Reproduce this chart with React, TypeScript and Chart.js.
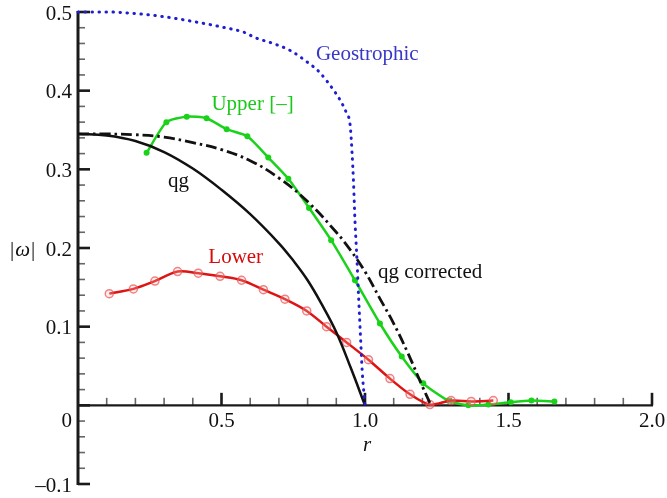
import React, { useEffect, useRef } from "react";
import { Chart, registerables } from "chart.js";

Chart.register(...registerables);

// ---------- data ----------
const geoR = [0, 0.1, 0.2, 0.3, 0.4, 0.5, 0.58, 0.62, 0.68, 0.74, 0.8, 0.84, 0.89, 0.915, 0.936, 0.948, 0.955, 0.96, 0.965, 0.972, 0.978, 0.984, 0.99, 1.0];
const geoW = [0.5, 0.5, 0.498, 0.494, 0.488, 0.481, 0.474, 0.467, 0.46, 0.451, 0.436, 0.424, 0.401, 0.387, 0.371, 0.357, 0.32, 0.283, 0.235, 0.185, 0.135, 0.09, 0.045, 0.0];

const qgR = [0, 0.1, 0.2, 0.3, 0.4, 0.5, 0.6, 0.7, 0.75, 0.8, 0.85, 0.9, 0.95, 1.0];
const qgW = [0.345, 0.343, 0.336, 0.322, 0.301, 0.274, 0.243, 0.206, 0.184, 0.159, 0.128, 0.093, 0.048, 0.0];

const qgcR = [0, 0.1, 0.2, 0.3, 0.4, 0.5, 0.6, 0.7, 0.8, 0.9, 0.95, 1.0, 1.05, 1.1, 1.15, 1.2, 1.23];
const qgcW = [0.345, 0.345, 0.344, 0.341, 0.334, 0.325, 0.311, 0.289, 0.259, 0.22, 0.197, 0.17, 0.137, 0.104, 0.066, 0.024, 0.0];

const upperR = [0.239, 0.308, 0.379, 0.448, 0.518, 0.59, 0.663, 0.733, 0.805, 0.882, 0.965, 1.052, 1.128, 1.203, 1.29, 1.36, 1.43, 1.508, 1.58, 1.66];
const upperW = [0.321, 0.36, 0.367, 0.365, 0.351, 0.342, 0.315, 0.288, 0.251, 0.21, 0.159, 0.104, 0.062, 0.028, 0.006, 0.0, 0.001, 0.004, 0.006, 0.005];

const lowerR = [0.109, 0.193, 0.268, 0.347, 0.419, 0.495, 0.57, 0.646, 0.721, 0.797, 0.866, 0.936, 1.012, 1.087, 1.157, 1.226, 1.3, 1.37, 1.447];
const lowerW = [0.142, 0.148, 0.158, 0.17, 0.168, 0.164, 0.159, 0.147, 0.135, 0.12, 0.1, 0.08, 0.058, 0.034, 0.014, 0.001, 0.006, 0.005, 0.006];

const xTickValues = [0.5, 1.0, 1.5, 2.0];
const xTickLabels = ["0.5", "1.0", "1.5", "2.0"];
const yTickValues = [0.5, 0.4, 0.3, 0.2, 0.1, -0.1];
const yTickLabels = ["0.5", "0.4", "0.3", "0.2", "0.1", "\u20130.1"];

const seriesLabels = ["Geostrophic", "Upper [\u2013]", "qg", "qg corrected", "Lower"];

const FONT = '"Liberation Serif", "Times New Roman", serif';

const pts = (xs: number[], ys: number[]) => xs.map((x, i) => ({ x, y: ys[i] }));

const annotations = [
  { text: seriesLabels[0], x: 0.829, y: 0.4384, color: "rgb(55,55,200)" },
  { text: seriesLabels[1], x: 0.465, y: 0.3757, color: "rgb(25,200,25)" },
  { text: seriesLabels[2], x: 0.314, y: 0.278, color: "#111" },
  { text: seriesLabels[3], x: 1.045, y: 0.1623, color: "#111" },
  { text: seriesLabels[4], x: 0.454, y: 0.1807, color: "rgb(215,10,10)" },
];

const axesPlugin = {
  id: "customAxes",
  beforeDatasetsDraw(chart: any) {
    const { ctx, scales } = chart;
    const xs = scales.x;
    const ys = scales.y;
    const xLeft = xs.getPixelForValue(0);
    const xRight = xs.getPixelForValue(2);
    const yZero = ys.getPixelForValue(0);
    const yTop = ys.getPixelForValue(0.5);
    const yBot = ys.getPixelForValue(-0.1);
    ctx.save();
    ctx.strokeStyle = "#666";
    ctx.lineWidth = 1.6;
    for (let i = -5; i <= 25; i++) {
      if (i % 5 === 0) continue;
      const py = ys.getPixelForValue(i * 0.02);
      ctx.beginPath();
      ctx.moveTo(xLeft, py);
      ctx.lineTo(xLeft + 7, py);
      ctx.stroke();
    }
    for (let i = 1; i < 20; i++) {
      if (i % 5 === 0) continue;
      const px = xs.getPixelForValue(i * 0.1);
      ctx.beginPath();
      ctx.moveTo(px, yZero);
      ctx.lineTo(px, yZero - 7.5);
      ctx.stroke();
    }
    ctx.strokeStyle = "#1a1a1a";
    ctx.lineWidth = 2.6;
    [...yTickValues, 0].forEach((v) => {
      const py = ys.getPixelForValue(v);
      ctx.beginPath();
      ctx.moveTo(xLeft, py);
      ctx.lineTo(xLeft + 12, py);
      ctx.stroke();
    });
    xTickValues.forEach((v) => {
      const px = xs.getPixelForValue(v);
      ctx.beginPath();
      ctx.moveTo(px, yZero);
      ctx.lineTo(px, yZero - 12.5);
      ctx.stroke();
    });
    ctx.lineWidth = 2.2;
    ctx.beginPath();
    ctx.moveTo(xLeft, yZero);
    ctx.lineTo(xRight + 1, yZero);
    ctx.stroke();
    ctx.lineWidth = 3;
    ctx.beginPath();
    ctx.moveTo(xLeft, yTop - 1);
    ctx.lineTo(xLeft, yBot + 1);
    ctx.stroke();
    ctx.restore();
  },
  afterDraw(chart: any) {
    const { ctx, scales } = chart;
    const xs = scales.x;
    const ys = scales.y;
    const xLeft = xs.getPixelForValue(0);
    const yZero = ys.getPixelForValue(0);
    ctx.save();
    ctx.fillStyle = "#111";
    ctx.font = `21px ${FONT}`;
    ctx.textAlign = "right";
    ctx.textBaseline = "middle";
    yTickValues.forEach((v, i) => {
      ctx.fillText(yTickLabels[i], xLeft - 6, ys.getPixelForValue(v) + 2);
    });
    ctx.textBaseline = "alphabetic";
    ctx.fillText("0", xLeft - 6, yZero + 22);
    ctx.textAlign = "center";
    xTickValues.forEach((v, i) => {
      ctx.fillText(xTickLabels[i], xs.getPixelForValue(v), yZero + 22);
    });
    ctx.font = `italic 21px ${FONT}`;
    ctx.fillText("r", xs.getPixelForValue(1.0) + 2, yZero + 46);
    const yMid = ys.getPixelForValue(0.2) + 2;
    ctx.textBaseline = "middle";
    ctx.textAlign = "left";
    ctx.font = `21px ${FONT}`;
    const bar = "|";
    let cx = xLeft - 68;
    ctx.fillText(bar, cx, yMid);
    cx += ctx.measureText(bar).width + 1;
    ctx.font = `italic 21px ${FONT}`;
    ctx.fillText("\u03C9", cx, yMid);
    cx += ctx.measureText("\u03C9").width + 1;
    ctx.font = `21px ${FONT}`;
    ctx.fillText(bar, cx, yMid);
    ctx.textBaseline = "alphabetic";
    ctx.textAlign = "left";
    annotations.forEach((a) => {
      ctx.fillStyle = a.color;
      ctx.fillText(a.text, xs.getPixelForValue(a.x), ys.getPixelForValue(a.y));
    });
    ctx.restore();
  },
};

export default function App() {
  const canvasRef = useRef<HTMLCanvasElement | null>(null);

  useEffect(() => {
    document.body.style.margin = "0";
    const canvas = canvasRef.current;
    if (!canvas) return;
    const chart = new Chart(canvas, {
      type: "line",
      data: {
        datasets: [
          {
            label: seriesLabels[0],
            data: pts(geoR, geoW),
            borderColor: "rgb(30,30,210)",
            borderWidth: 3,
            borderDash: [0.5, 6.5],
            borderCapStyle: "round",
            pointRadius: 0,
            cubicInterpolationMode: "monotone",
            clip: false,
          } as any,
          {
            label: seriesLabels[2],
            data: pts(qgR, qgW),
            borderColor: "#111",
            borderWidth: 2.5,
            pointRadius: 0,
            tension: 0.4,
            clip: false,
          },
          {
            label: seriesLabels[3],
            data: pts(qgcR, qgcW),
            borderColor: "#111",
            borderWidth: 2.8,
            borderDash: [11, 4, 2.5, 4],
            pointRadius: 0,
            tension: 0.4,
            clip: false,
          },
          {
            label: seriesLabels[4],
            data: pts(lowerR, lowerW),
            borderColor: "rgb(220,20,20)",
            borderWidth: 2.5,
            pointRadius: 4,
            pointBorderWidth: 1.5,
            pointBorderColor: "rgba(235,80,80,0.7)",
            pointBackgroundColor: "rgba(255,190,190,0.25)",
            tension: 0.3,
            clip: false,
          },
          {
            label: seriesLabels[1],
            data: pts(upperR, upperW),
            borderColor: "rgb(25,210,25)",
            borderWidth: 2.5,
            pointRadius: 3,
            pointBorderWidth: 0,
            pointBackgroundColor: "rgb(25,210,25)",
            tension: 0.2,
            clip: false,
          },
        ],
      },
      options: {
        responsive: false,
        animation: false,
        layout: { padding: { left: 78, right: 15, top: 12, bottom: 14 } },
        plugins: { legend: { display: false }, tooltip: { enabled: false } },
        scales: {
          x: { type: "linear", min: 0, max: 2, display: false },
          y: { type: "linear", min: -0.1, max: 0.5, display: false },
        },
      },
      plugins: [axesPlugin],
    });
    return () => chart.destroy();
  }, []);

  return (
    <div style={{ position: "absolute", left: 0, top: 0, width: 667, height: 498, background: "#fff" }}>
      <canvas ref={canvasRef} width={667} height={498} style={{ display: "block" }} />
    </div>
  );
}
